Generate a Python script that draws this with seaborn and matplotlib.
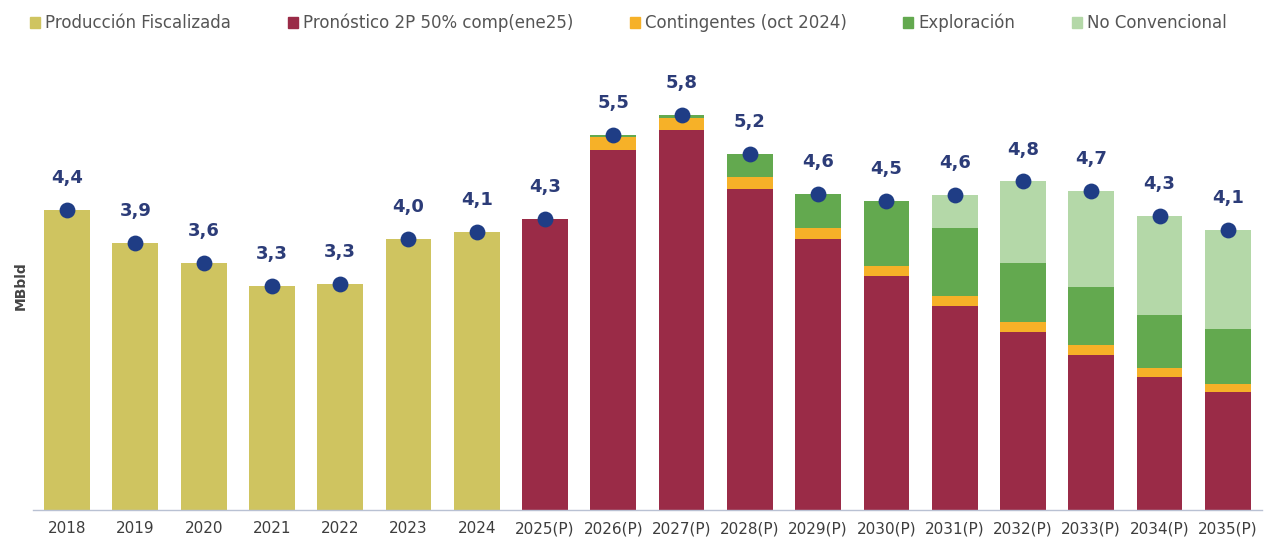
import numpy as np
import pandas as pd
import seaborn as sns
import matplotlib.pyplot as plt
from matplotlib.patches import Patch

# data (MBbld)
years = ["2018", "2019", "2020", "2021", "2022", "2023", "2024",
         "2025(P)", "2026(P)", "2027(P)", "2028(P)", "2029(P)", "2030(P)",
         "2031(P)", "2032(P)", "2033(P)", "2034(P)", "2035(P)"]
prod_fisc = [4.41, 3.93, 3.63, 3.29, 3.33, 3.98, 4.09]
pronostico = [4.28, 5.29, 5.58, 4.72, 3.98, 3.44, 3.00, 2.62, 2.28, 1.96, 1.74]
contingentes = [0.00, 0.19, 0.18, 0.17, 0.16, 0.15, 0.15, 0.15, 0.14, 0.13, 0.12]
exploracion = [0.00, 0.04, 0.05, 0.34, 0.50, 0.95, 0.99, 0.86, 0.86, 0.78, 0.80]
no_conv = [0.00, 0.00, 0.00, 0.00, 0.00, 0.00, 0.49, 1.20, 1.41, 1.45, 1.46]

series = ["Producción Fiscalizada", "Pronóstico 2P 50% comp(ene25)",
          "Contingentes (oct 2024)", "Exploración", "No Convencional"]
colors = ["#cfc460", "#9a2b47", "#f6b128", "#63a94f", "#b4d8a8"]
navy = "#1f3d85"

n_hist = len(prod_fisc)
nan_hist = [np.nan] * n_hist
df = pd.DataFrame({"year": years})
df["base"] = prod_fisc + pronostico
df["l_red"] = nan_hist + pronostico
df["l_cont"] = nan_hist + list(np.add(pronostico, contingentes))
df["l_expl"] = nan_hist + list(np.add(df["l_cont"][n_hist:], exploracion))
df["l_nc"] = nan_hist + list(np.add(df["l_expl"][n_hist:], no_conv))
df["total"] = prod_fisc + list(df["l_nc"][n_hist:])

sns.set_theme(style="white")
plt.rcParams["font.family"] = ["DejaVu Sans"]

fig = plt.figure(figsize=(12.67, 5.45), dpi=100)
ax = fig.add_axes([0.026, 0.064, 0.97, 0.824])

bw = 0.67
# stacked bars drawn as overlapping cumulative layers
sns.barplot(data=df, x="year", y="l_nc", order=years, color=colors[4],
            saturation=1, width=bw, linewidth=0, ax=ax)
sns.barplot(data=df, x="year", y="l_expl", order=years, color=colors[3],
            saturation=1, width=bw, linewidth=0, ax=ax)
sns.barplot(data=df, x="year", y="l_cont", order=years, color=colors[2],
            saturation=1, width=bw, linewidth=0, ax=ax)
sns.barplot(data=df, x="year", y="l_red", order=years, color=colors[1],
            saturation=1, width=bw, linewidth=0, ax=ax)
df_hist = df.iloc[:n_hist]
sns.barplot(data=df_hist, x="year", y="base", order=years, color=colors[0],
            saturation=1, width=bw, linewidth=0, ax=ax)

# total markers + labels
pos = np.arange(len(years))
sns.scatterplot(x=pos, y=df["total"], color=navy, s=130, linewidth=0,
                zorder=5, ax=ax, legend=False)
for x, t in zip(pos, df["total"]):
    ax.annotate(f"{t:.1f}".replace(".", ","), (x, t), xytext=(0, 23),
                textcoords="offset points", ha="center", va="center",
                fontsize=13, fontweight="bold", color="#2c3c78")

ax.set_xlim(-0.5, len(years) - 0.5)
ax.set_ylim(0, 6.6)
ax.set_yticks([])
ax.set_xlabel("")
ax.set_ylabel("MBbld", fontsize=10, fontweight="bold", color="#444444", labelpad=4)
ax.tick_params(axis="x", length=0, pad=8, labelsize=11, labelcolor="#3d3d3d")
for s in ["top", "right", "left"]:
    ax.spines[s].set_visible(False)
ax.spines["bottom"].set_color("#b9c1d3")
ax.spines["bottom"].set_linewidth(1)

handles = [Patch(color=c, label=l) for c, l in zip(colors, series)]
fig.legend(handles=handles, loc="center left", bbox_to_anchor=(0.012, 0.958),
           ncol=5, frameon=False, fontsize=12, handlelength=0.6,
           handleheight=0.6, handletextpad=0.3, columnspacing=3.4,
           labelcolor="#555555")

fig.savefig("out.png", dpi=100)
